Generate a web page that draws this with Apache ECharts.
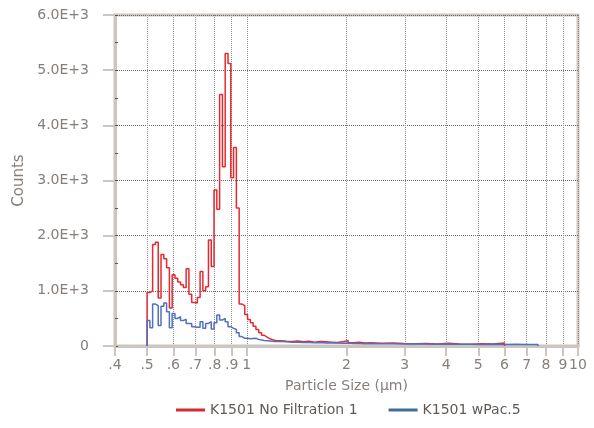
<!DOCTYPE html>
<html><head><meta charset="utf-8">
<script src="https://cdn.jsdelivr.net/npm/echarts@6/dist/echarts.min.js"></script>
<style>html,body{margin:0;padding:0;background:#fff}#c{width:594px;height:428px}</style>
</head><body><div id="c"></div>
<script>
// Bin left edges (µm); the last value is the right edge of the last bin
const binEdges = [
  0.5000, 0.5098, 0.5196, 0.5298, 0.5402, 0.5508, 0.5616, 0.5726, 0.5838, 0.5952,
  0.6069, 0.6188, 0.6309, 0.6433, 0.6559, 0.6687, 0.6818, 0.6952, 0.7088, 0.7227,
  0.7368, 0.7513, 0.7660, 0.7810, 0.7963, 0.8119, 0.8278, 0.8441, 0.8606, 0.8775,
  0.8947, 0.9122, 0.9301, 0.9483, 0.9669, 0.9859, 1.0052, 1.0249, 1.0450, 1.0655,
  1.0864, 1.1077, 1.1294, 1.1515, 1.1741, 1.1971,
  1.2208, 1.2694, 1.3196, 1.3720, 1.4264, 1.4830, 1.5417, 1.6029, 1.6665, 1.7324,
  1.8010, 1.8724, 1.9466, 2.0230, 2.1025, 2.1861, 2.2726, 2.3627,
  2.5540, 2.7603, 2.9828, 3.2233, 3.4837, 3.7645, 4.0687, 4.3967, 4.7521, 5.1357,
  5.5505, 5.9982, 6.4826, 7.0053, 7.5700
];
const noFiltrationCounts = [
  970, 1000, 1840, 1880, 870, 1660, 1580, 1420, 690, 1290,
  1230, 1160, 1110, 1060, 1400, 940, 790, 780, 880, 1350,
  1000, 1075, 1920, 1440, 2830, 2480, 4560, 3250, 5300, 5120,
  3050, 3600, 2500, 760, 730, 570, 480, 420, 360, 300,
  240, 195, 160, 130, 115, 100,
  95, 85, 80, 90, 75, 85, 70, 80, 75, 70, 65, 75, 100, 60, 70, 55, 60, 50,
  55, 45, 40, 45, 35, 50, 35, 30, 40, 35, 55
];
const wPacCounts = [
  460, 330, 760, 730, 370, 720, 780, 620, 330, 590,
  500, 530, 460, 485, 410, 410, 350, 340, 340, 440,
  320, 410, 440, 310, 420, 560, 470, 500, 440, 350,
  320, 300, 240, 170, 140, 140, 130, 135, 140, 120,
  110, 100, 95, 90, 85, 80,
  80, 75, 70, 70, 65, 65, 60, 65, 55, 60, 55, 50, 55, 45, 45, 40, 45, 40,
  40, 35, 40, 35, 30, 35, 30, 30, 25, 30, 25, 30, 25, 25
];
const seriesNames = ['K1501 No Filtration 1', 'K1501 wPac.5'];
const xTickValues = [0.4, 0.5, 0.6, 0.7, 0.8, 0.9, 1, 2, 3, 4, 5, 6, 7, 8, 9, 10];
const xTickLabels = ['.4', '.5', '.6', '.7', '.8', '.9', '1', '2', '3', '4', '5', '6', '7', '8', '9', '10'];
const yTickValues = [0, 1000, 2000, 3000, 4000, 5000, 6000];
const yTickLabels = ['0', '1.0E+3', '2.0E+3', '3.0E+3', '4.0E+3', '5.0E+3', '6.0E+3'];

function histData(counts) {
  const d = [[binEdges[0], 0]];
  counts.forEach((c, i) => d.push([binEdges[i], c]));
  d.push([binEdges[counts.length], 0]);
  return d;
}
function labelFor(values, labels, v) {
  let best = 0;
  for (let i = 1; i < values.length; i++) {
    if (Math.abs(values[i] - v) < Math.abs(values[best] - v)) best = i;
  }
  return labels[best];
}

const FONT = 'DejaVu Sans';
const frame = '#cdc5bf';
const chart = echarts.init(document.getElementById('c'), null, {renderer: 'canvas'});
chart.setOption({
  animation: false,
  backgroundColor: '#fff',
  grid: {left: 115, right: 16, top: 15, bottom: 82, show: true, borderColor: frame, borderWidth: 3},
  legend: {
    left: 176, top: 403, padding: 0, icon: 'rect', itemWidth: 29, itemHeight: 3, itemGap: 31,
    textStyle: {fontFamily: FONT, fontSize: 14, color: '#5f5a56'},
    data: [
      {name: seriesNames[0], itemStyle: {color: '#d42a30'}},
      {name: seriesNames[1], itemStyle: {color: '#3e6f93'}}
    ]
  },
  xAxis: {
    type: 'log', logBase: 10, min: 0.4, max: 10,
    name: 'Particle Size (µm)', nameLocation: 'middle', nameGap: 33,
    nameTextStyle: {fontFamily: FONT, fontSize: 14, color: '#857e79'},
    axisLine: {lineStyle: {color: frame, width: 3}},
    axisTick: {show: true, length: 10, customValues: xTickValues, lineStyle: {color: frame, width: 2}},
    axisLabel: {
      customValues: xTickValues, margin: 12, interval: 0, hideOverlap: false, showMinLabel: true, showMaxLabel: true,
      fontFamily: FONT, fontSize: 14, color: '#857e79',
      formatter: v => labelFor(xTickValues, xTickLabels, v)
    },
    splitLine: {show: true, lineStyle: {color: '#8f8f8f', type: 'dotted', width: 1}},
    minorTick: {show: false}, minorSplitLine: {show: false}
  },
  yAxis: [{
    type: 'value', min: 0, max: 6000, interval: 1000,
    name: 'Counts', nameLocation: 'middle', nameGap: 88,
    nameTextStyle: {fontFamily: FONT, fontSize: 15, color: '#857e79'},
    axisLine: {show: true, lineStyle: {color: frame, width: 3}},
    axisTick: {show: true, length: 12, lineStyle: {color: frame, width: 2}},
    axisLabel: {margin: 26, fontFamily: FONT, fontSize: 14, color: '#857e79',
      formatter: v => labelFor(yTickValues, yTickLabels, v)},
    splitLine: {show: true, lineStyle: {color: '#6a6a6a', type: 'dotted', width: 1}}
  }, {
    type: 'value', min: 0, max: 6000, interval: 500, position: 'left',
    axisLine: {show: false}, axisLabel: {show: false}, splitLine: {show: false},
    axisTick: {show: true, inside: true, length: 3, lineStyle: {color: '#555', width: 1}}
  }],
  series: [{
    name: seriesNames[0], type: 'line', step: 'end', showSymbol: false,
    data: histData(noFiltrationCounts),
    lineStyle: {color: '#e52a2f', width: 1.5}, itemStyle: {color: '#e52a2f'}
  }, {
    name: seriesNames[1], type: 'line', step: 'end', showSymbol: false,
    data: histData(wPacCounts),
    lineStyle: {color: '#5170c0', width: 1.5}, itemStyle: {color: '#5170c0'}
  }]
});
</script></body></html>
